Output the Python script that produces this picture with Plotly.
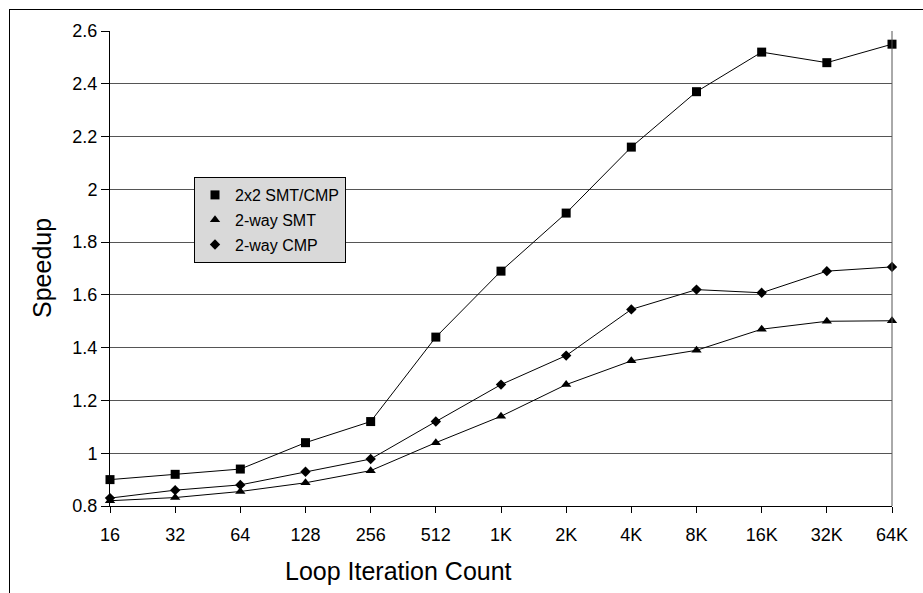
import plotly.graph_objects as go

categories = ["16", "32", "64", "128", "256", "512", "1K", "2K", "4K", "8K", "16K", "32K", "64K"]
smt_cmp_2x2 = [0.90, 0.92, 0.94, 1.04, 1.12, 1.44, 1.69, 1.91, 2.16, 2.37, 2.52, 2.48, 2.55]
smt_2way = [0.82, 0.832, 0.855, 0.888, 0.934, 1.04, 1.14, 1.26, 1.35, 1.39, 1.47, 1.50, 1.502]
cmp_2way = [0.83, 0.86, 0.88, 0.93, 0.978, 1.12, 1.26, 1.37, 1.545, 1.62, 1.608, 1.69, 1.706]
y_ticks = [0.8, 1.0, 1.2, 1.4, 1.6, 1.8, 2.0, 2.2, 2.4, 2.6]
y_ticktext = ["0.8", "1", "1.2", "1.4", "1.6", "1.8", "2", "2.2", "2.4", "2.6"]

W, H = 923, 593
L, R, T, B = 110, 31, 31, 87
pw, ph = W - L - R, H - T - B

def px_x(p):
    return (p - L) / pw

def px_y(p):
    return (H - B - p) / ph

FONT = "Liberation Sans, Arial, sans-serif"
xs = list(range(len(categories)))

series = [
    ("2x2 SMT/CMP", smt_cmp_2x2, "square", 9),
    ("2-way SMT", smt_2way, "triangle-up", 9),
    ("2-way CMP", cmp_2way, "diamond", 8),
]

fig = go.Figure()
for i, (name, vals, sym, sz) in enumerate(series):
    fig.add_trace(go.Scatter(
        x=xs, y=vals, mode="lines+markers", name=name,
        line=dict(color="black", width=1),
        marker=dict(symbol=sym, size=sz, color="black"),
        cliponaxis=False, showlegend=False,
    ))
for i, (name, vals, sym, sz) in enumerate(series):
    fig.add_trace(go.Scatter(
        x=[None], y=[None], mode="markers", name=name,
        marker=dict(symbol=sym, size=sz, color="black"),
        legendgroup=f"g{i}", showlegend=True,
    ))

fig.update_layout(
    width=W, height=H,
    margin=dict(l=L, r=R, t=T, b=B),
    paper_bgcolor="white", plot_bgcolor="white",
    font=dict(family=FONT, color="black", size=18),
    legend=dict(
        x=px_x(194), y=px_y(177), xanchor="left", yanchor="top",
        bgcolor="#d9d9d9", bordercolor="black", borderwidth=1,
        font=dict(family=FONT, size=16, color="black"),
        tracegroupgap=1, itemwidth=30,
    ),
    xaxis=dict(
        range=[0, len(categories) - 1],
        tickmode="array", tickvals=xs, ticktext=categories,
        showgrid=False, zeroline=False,
        showline=True, linecolor="black", linewidth=1,
        ticks="outside", ticklen=6, tickcolor="black",
        tickfont=dict(size=18), ticklabelstandoff=6,
    ),
    yaxis=dict(
        range=[0.8, 2.6],
        tickmode="array", tickvals=y_ticks, ticktext=y_ticktext,
        showgrid=True, gridcolor="#555555", gridwidth=1, zeroline=False,
        showline=True, linecolor="black", linewidth=1,
        ticks="outside", ticklen=8, tickcolor="black",
        tickfont=dict(size=18),
    ),
    shapes=[
        dict(type="line", xref="paper", yref="paper", x0=1, x1=1, y0=0, y1=1,
             line=dict(color="#555555", width=1)),
        dict(type="line", xref="paper", yref="paper", x0=px_x(9), x1=px_x(W + 5),
             y0=px_y(9.5), y1=px_y(9.5), line=dict(color="black", width=1)),
        dict(type="line", xref="paper", yref="paper", x0=px_x(9.5), x1=px_x(9.5),
             y0=px_y(9), y1=px_y(H + 5), line=dict(color="black", width=1)),
    ],
    annotations=[
        dict(text="Speedup", xref="paper", yref="paper", x=px_x(42), y=px_y(268),
             xanchor="center", yanchor="middle", textangle=-90, showarrow=False,
             font=dict(family=FONT, size=25, color="black")),
        dict(text="Loop Iteration Count", xref="paper", yref="paper", x=px_x(398), y=px_y(571),
             xanchor="center", yanchor="middle", showarrow=False,
             font=dict(family=FONT, size=25, color="black")),
    ],
)

fig.write_html("out.html")
